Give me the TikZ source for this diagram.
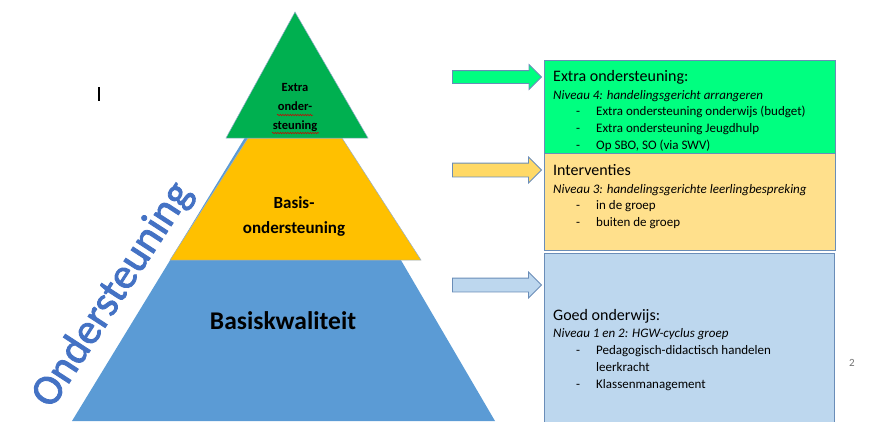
\documentclass[tikz,border=0pt]{standalone}
\usepackage{fontspec}
\setmainfont{Carlito}
\newfontfamily\ondfont{Carlito}[FakeBold=2]
\usetikzlibrary{shapes.arrows,decorations.pathmorphing}

\definecolor{pyrgreen}{HTML}{00B050}
\definecolor{pyryellow}{HTML}{FFC000}
\definecolor{pyrblue}{HTML}{5B9BD5}
\definecolor{boxgreen}{HTML}{00FF80}
\definecolor{boxyellow}{HTML}{FFE08C}
\definecolor{boxblue}{HTML}{BDD7EE}
\definecolor{arryellow}{HTML}{FFD966}
\definecolor{edgeblue}{HTML}{6A8DB8}
\definecolor{ondblue}{HTML}{4472C4}

\newcommand{\dashitem}[1]{\makebox[20pt][l]{-}#1}

\begin{document}
\begin{tikzpicture}[x=1pt,y=-1pt,
    layer/.style={draw=edgeblue!70, line width=0.5pt},
    infobox/.style={rectangle, draw=edgeblue, line width=0.8pt, anchor=north west, inner sep=0pt, minimum width=291pt},
    blockarrow/.style={single arrow, draw=edgeblue, line width=0.8pt, anchor=tip, inner sep=0pt,
        minimum height=89pt, single arrow head extend=6pt},
    title/.style={anchor=base west, inner sep=0pt, font=\fontsize{16}{16}\selectfont},
    niveau/.style={anchor=base west, inner sep=0pt, font=\fontsize{13}{13}\selectfont\itshape},
    item/.style={anchor=base west, inner sep=0pt, font=\fontsize{13}{13}\selectfont},
    squiggle/.style={red!80!black, line width=0.5pt, decorate, decoration={snake, amplitude=0.7pt, segment length=2.5pt}}
  ]
  \useasboundingbox (0,0) rectangle (874,421);

  % pyramid
  \fill[pyrblue] (72,421) -- (288,67) -- (495,421) -- cycle;
  \filldraw[fill=pyryellow, layer] (170,260) -- (248,138) -- (342,138) -- (421,260) -- cycle;
  \filldraw[fill=pyrgreen, layer] (226,138) -- (295,12) -- (368,138) -- cycle;

  \node[align=center, font=\fontsize{12.5}{19}\selectfont\bfseries] (extra) at (295,108) {Extra\\onder-\\steuning};
  \draw[squiggle] (277,115) -- (313,115);
  \draw[squiggle] (272,133) -- (319,133);
  \node[align=center, font=\fontsize{17}{25}\selectfont\bfseries] (basis) at (294,216) {Basis-\\ondersteuning};
  \node[font=\fontsize{25.5}{25.5}\selectfont\bfseries] (kwal) at (283,321) {Basiskwaliteit};

  \node[rotate=57, text=ondblue, font=\fontsize{43}{43}\ondfont] (ond) at (113,295) {Ondersteuning};

  % cursor
  \draw[line width=1.3pt] (99,87) -- (99,101);

  % boxes
  \node[infobox, fill=boxgreen, minimum height=93pt] (boxG) at (544,60) {};
  \node[infobox, fill=boxyellow, minimum height=97pt] (boxY) at (544,153) {};
  \node[infobox, fill=boxblue, minimum height=175pt, minimum width=290pt] (boxB) at (544,253) {};

  % arrows
  \node[blockarrow, fill=boxgreen] (arrG) at (542,77) {\rule{0pt}{12pt}};
  \node[blockarrow, fill=arryellow] (arrY) at (542,170) {\rule{0pt}{13pt}};
  \node[blockarrow, fill=boxblue] (arrB) at (542,285) {\rule{0pt}{13pt}};

  % texts green box
  \node[title] (tG) at (553,81) {Extra ondersteuning:};
  \node[niveau] (nG) at (553,99) {Niveau 4: handelingsgericht arrangeren};
  \foreach \t [count=\i] in {Extra ondersteuning onderwijs (budget), Extra ondersteuning Jeugdhulp, {Op SBO, SO (via SWV)}}
    \node[item] (g\i) at (576,99+16.7*\i) {\dashitem{\t}};

  % texts yellow box
  \node[title] (tY) at (553,175) {Interventies};
  \node[niveau] (nY) at (553,193) {Niveau 3: handelingsgerichte leerlingbespreking};
  \foreach \t [count=\i] in {in de groep, buiten de groep}
    \node[item] (y\i) at (576,193+16.7*\i) {\dashitem{\t}};

  % texts blue box
  \node[title] (tB) at (553,320) {Goed onderwijs:};
  \node[niveau] (nB) at (553,337) {Niveau 1 en 2: HGW-cyclus  groep};
  \node[item] (b1) at (576,354) {\dashitem{Pedagogisch-didactisch handelen}};
  \node[item] (b2) at (596,371) {leerkracht};
  \node[item] (b3) at (576,388) {\dashitem{Klassenmanagement}};

  \node[text=black!55, font=\fontsize{11}{11}\selectfont] (page) at (852,363) {2};
\end{tikzpicture}
\end{document}
